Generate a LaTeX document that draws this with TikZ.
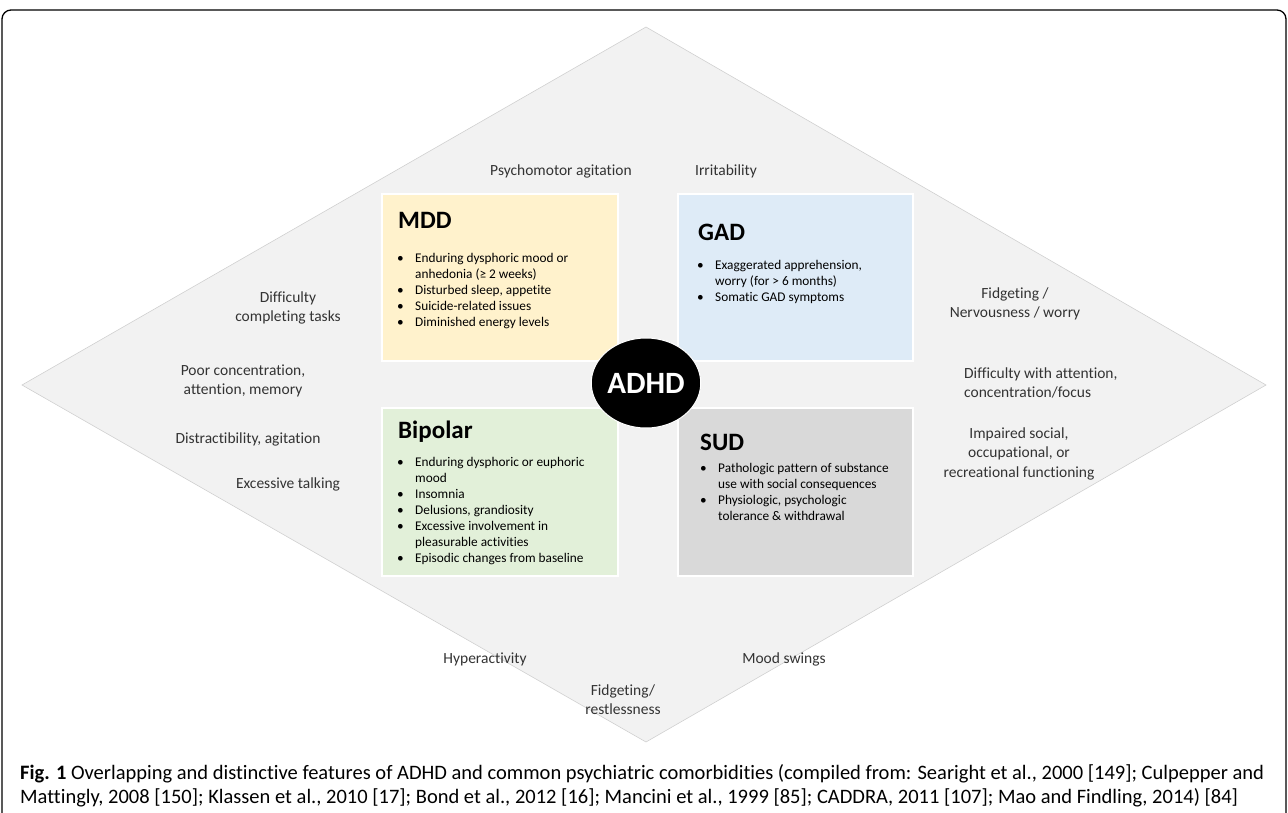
\documentclass[tikz,border=0pt]{standalone}
\usepackage{fontspec}
\setmainfont{Carlito}[Ligatures={NoCommon,TeX}]
\usetikzlibrary{shapes.geometric}
\definecolor{mddfill}{HTML}{FFF2CC}
\definecolor{gadfill}{HTML}{DEEBF7}
\definecolor{bipfill}{HTML}{E2F0D9}
\definecolor{sudfill}{HTML}{D9D9D9}
\definecolor{diafill}{HTML}{F2F2F2}
\definecolor{diaedge}{HTML}{D0D0D0}
\definecolor{labtext}{HTML}{333333}
\newcommand{\mlc}[1]{\begin{tabular}[t]{@{}c@{}}#1\end{tabular}}
\newcommand{\mll}[1]{\begin{tabular}[t]{@{}l@{}}#1\end{tabular}}
\newcommand{\blist}[1]{\begin{tabular}[t]{@{}p{18pt}@{}l@{}}#1\end{tabular}}
\begin{document}
\begin{tikzpicture}[x=1pt,y=-1pt,
  sidelab/.style={anchor=base,inner sep=0pt,text=labtext,font=\fontsize{15.5}{19.5}\selectfont},
  boxfill/.style={draw=white,line width=1.5pt},
  boxtitle/.style={anchor=base west,inner sep=0pt,font=\fontsize{25}{30}\selectfont\bfseries},
  boxlist/.style={anchor=base west,inner sep=0pt,font=\fontsize{13.3}{16}\selectfont},
  caplab/.style={anchor=base west,inner sep=0pt,font=\fontsize{20.5}{24}\selectfont}]
\path[use as bounding box] (0,0) rectangle (1288,812);
% frame
\draw[line width=1.3pt,rounded corners=9pt] (2,840) -- (2,10) -- (1286,10) -- (1286,840);
% diamond
\filldraw[fill=diafill,draw=diaedge,line width=0.6pt] (646,27) -- (1266,385) -- (646,742) -- (22,385) -- cycle;
% boxes
\node[boxfill,fill=mddfill,minimum width=236pt,minimum height=167pt,anchor=north west,inner sep=0pt] (mdd) at (381,193) {};
\node[boxfill,fill=gadfill,minimum width=235pt,minimum height=167pt,anchor=north west,inner sep=0pt] (gad) at (677,193) {};
\node[boxfill,fill=bipfill,minimum width=236pt,minimum height=168pt,anchor=north west,inner sep=0pt] (bip) at (381,407) {};
\node[boxfill,fill=sudfill,minimum width=235pt,minimum height=168pt,anchor=north west,inner sep=0pt] (sud) at (677,407) {};
% titles
\node[boxtitle] (mddt) at (398,228) {MDD};
\node[boxtitle] (gadt) at (698,240) {GAD};
\node[boxtitle] (bipt) at (398,438) {Bipolar};
\node[boxtitle] (sudt) at (700,450) {SUD};
% lists
\node[boxlist] (mddl) at (397,262) {\blist{\textbullet & Enduring dysphoric mood or\\ & anhedonia (≥ 2 weeks)\\ \textbullet & Disturbed sleep, appetite\\ \textbullet & Suicide-related issues\\ \textbullet & Diminished energy levels}};
\node[boxlist] (gadl) at (697,269) {\blist{\textbullet & Exaggerated apprehension,\\ & worry (for > 6 months)\\ \textbullet & Somatic GAD symptoms}};
\node[boxlist] (bipl) at (397,466) {\blist{\textbullet & Enduring dysphoric or euphoric\\ & mood\\ \textbullet & Insomnia\\ \textbullet & Delusions, grandiosity\\ \textbullet & Excessive involvement in\\ & pleasurable activities\\ \textbullet & Episodic changes from baseline}};
\node[boxlist] (sudl) at (700,472) {\blist{\textbullet & Pathologic pattern of substance\\ & use with social consequences\\ \textbullet & Physiologic, psychologic\\ & tolerance \& withdrawal}};
% centre
\node[ellipse,fill=black,draw=white,line width=1pt,minimum width=96pt,minimum height=90pt,inner sep=0pt,text=white,font=\fontsize{31}{36}\selectfont\bfseries] (adhd) at (646,383) {ADHD};
% side labels
\node[sidelab] (psy) at (561,175) {Psychomotor agitation};
\node[sidelab] (irr) at (726,175) {Irritability};
\node[sidelab] (diff) at (288,302) {\mlc{Difficulty\\completing tasks}};
\node[sidelab] (poor) at (243,375) {\mlc{Poor concentration,\\attention, memory}};
\node[sidelab] (distr) at (248,443) {Distractibility, agitation};
\node[sidelab] (exc) at (288,488) {Excessive talking};
\node[sidelab] (fidr) at (1015,298) {\mlc{Fidgeting /\\Nervousness / worry}};
\node[sidelab,anchor=base west] (diffatt) at (964,378) {\mll{Difficulty with attention,\\concentration/focus}};
\node[sidelab] (imp) at (1019,438) {\mlc{Impaired social,\\occupational, or\\recreational functioning}};
\node[sidelab] (hyp) at (485,663) {Hyperactivity};
\node[sidelab] (mood) at (784,663) {Mood swings};
\node[sidelab] (fidb) at (623,695) {\mlc{Fidgeting/\\restlessness}};
% caption
\node[caplab] (cap1) at (20,779) {\textbf{Fig. 1} Overlapping and distinctive features of ADHD and common psychiatric comorbidities (compiled from: Searight et al., 2000 [149]; Culpepper and};
\node[caplab] (cap2) at (20,803) {Mattingly, 2008 [150]; Klassen et al., 2010 [17]; Bond et al., 2012 [16]; Mancini et al., 1999 [85]; CADDRA, 2011 [107]; Mao and Findling, 2014) [84]};
\end{tikzpicture}
\end{document}
